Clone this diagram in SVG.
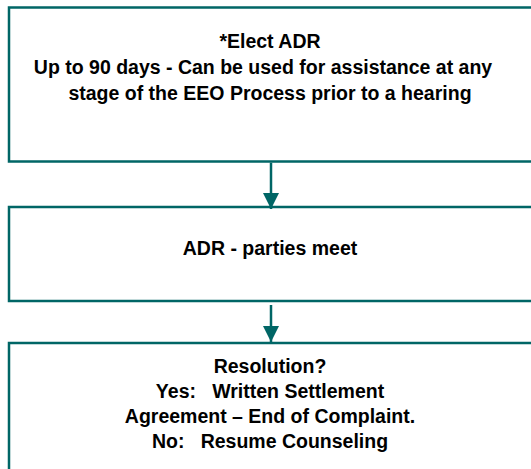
<svg xmlns="http://www.w3.org/2000/svg" width="531" height="469" viewBox="0 0 531 469">
<defs>
<style>
.box{fill:#ffffff;stroke:#006666;stroke-width:2.5}
.t{font-family:"Liberation Sans",Arial,sans-serif;font-weight:bold;font-size:19.5px;fill:#000;text-anchor:middle;white-space:pre}
.con{stroke:#006666;stroke-width:2.5;fill:none}
</style>
<marker id="ah" markerUnits="userSpaceOnUse" markerWidth="16" markerHeight="16" refX="16" refY="8" orient="auto" viewBox="0 0 16 16">
<path d="M0,0 L16,8 L0,16 Z" fill="#006666"/>
</marker>
</defs>
<rect width="531" height="469" fill="#ffffff"/>
<g id="n1">
<rect class="box" x="9" y="7.5" width="526" height="154"/>
<text class="t" x="270" y="48">*Elect ADR</text>
<text class="t" x="263" y="74">Up to 90 days - Can be used for assistance at any</text>
<text class="t" x="270" y="100">stage of the EEO Process prior to a hearing</text>
</g>
<g id="n2">
<rect class="box" x="9" y="207" width="526" height="94"/>
<text class="t" x="270" y="255">ADR - parties meet</text>
</g>
<g id="n3">
<rect class="box" x="9" y="343" width="526" height="140"/>
<text class="t" x="270" y="373">Resolution?</text>
<text class="t" x="270" y="398" xml:space="preserve">Yes:   Written Settlement</text>
<text class="t" x="270" y="423">Agreement – End of Complaint.</text>
<text class="t" x="270" y="448" xml:space="preserve">No:   Resume Counseling</text>
</g>
<g id="connectors">
<line class="con" x1="271" y1="162.7" x2="271" y2="209" marker-end="url(#ah)"/>
<line class="con" x1="271" y1="305" x2="271" y2="342" marker-end="url(#ah)"/>
</g>
</svg>
